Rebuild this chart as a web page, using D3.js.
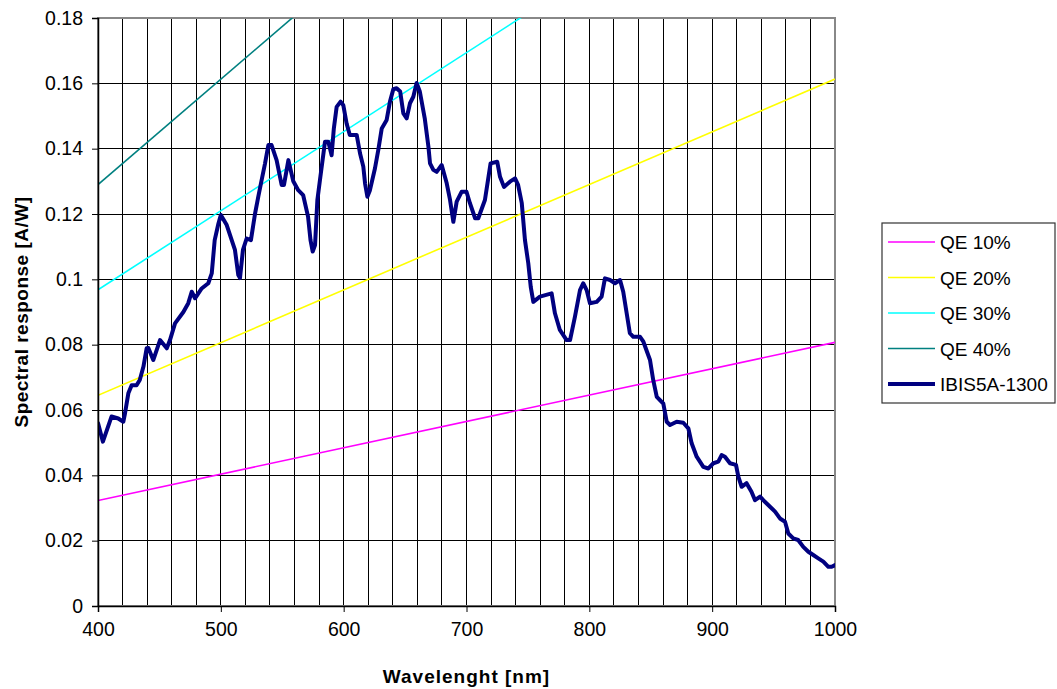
<!DOCTYPE html>
<html>
<head>
<meta charset="utf-8">
<script src="https://cdn.jsdelivr.net/npm/d3@7"></script>
<style>
  body { margin: 0; background: #fff; }
  text { font-family: "Liberation Sans", Arial, sans-serif; fill: #000; }
</style>
</head>
<body>
<div id="chart"></div>
<script>
// Set dimensions
const width = 1057;
const height = 689;
const margin = { top: 18, right: 222, bottom: 83, left: 98 };

// Data: measured curve (wavelength in nm, response in A/W)
const wavelength = [400, 404, 411, 416.5, 420.6, 422, 424.7, 427.4, 431.4, 434, 437, 439.6, 441, 445, 450.5, 456, 458.6, 462.7, 469.5, 473.5,
  476.3, 479, 484.4, 489.8, 492.6, 495, 498, 500, 504.8, 511.5, 514.2, 515.6, 518, 521, 524.5, 527.8, 530.5, 533, 536, 538.7,
  541.3, 545.4, 549.5, 551.4, 555, 559, 563, 567, 571, 573, 574.8, 576.7, 578.6, 580.7, 584.8, 587.5, 590.2, 592, 594.3, 597.5,
  599.7, 602.4, 605, 610.6, 613.3, 616, 617.4, 619.3, 621.4, 625.5, 628.2, 631, 635, 637.7, 640.4, 643.1, 646, 648.6, 651.3, 654,
  656.7, 659.4, 662, 666, 669, 670.3, 673, 675.7, 679.8, 683.9, 686.6, 689.3, 692, 696, 700, 702.8, 707, 709.6, 715, 719.6,
  725, 727.3, 730.5, 735.4, 739.5, 742, 745, 747.6, 750.3, 752.3, 754.4, 759.8, 769.3, 772, 776, 781.5, 784.3, 788.3, 792.4, 795,
  797.8, 800.5, 806, 810, 812.7, 816.8, 820.9, 825, 827.6, 830.4, 833, 835.8, 841.3, 844, 849.4, 852, 854.9, 860.2, 863, 865.7,
  871.1, 876.5, 880.6, 883.3, 887.4, 892.8, 896.9, 901, 905, 907.7, 910.4, 914.5, 919.4, 921.3, 924, 928, 932, 934.9, 939, 941.6,
  947.1, 951.2, 955.2, 959.3, 962, 966, 970, 974.2, 978.3, 982.3, 986.4, 990.5, 994.6, 997.3, 1000];
const response = [0.056, 0.0503, 0.058, 0.0574, 0.0564, 0.059, 0.0651, 0.0676, 0.0676, 0.0692, 0.0733, 0.0789, 0.079, 0.0753, 0.0814, 0.0789, 0.0814, 0.0865, 0.090, 0.0927,
  0.0962, 0.0942, 0.0972, 0.0988, 0.1018, 0.112, 0.117, 0.1197, 0.1166, 0.109, 0.1013, 0.1004, 0.109, 0.1125, 0.112, 0.120, 0.1253, 0.130, 0.1355, 0.1411,
  0.1411, 0.1365, 0.1289, 0.1289, 0.1365, 0.130, 0.1273, 0.1258, 0.1192, 0.112, 0.1085, 0.1105, 0.1243, 0.1304, 0.1421, 0.1421, 0.138, 0.1462, 0.1528, 0.1544,
  0.1533, 0.1477, 0.1442, 0.1442, 0.1386, 0.1345, 0.1294, 0.1253, 0.1273, 0.134, 0.1396, 0.1462, 0.1488, 0.1544, 0.1582, 0.1585, 0.1575, 0.1508, 0.1493, 0.1539,
  0.1559, 0.1601, 0.1575, 0.1493, 0.1406, 0.1355, 0.1335, 0.1329, 0.135, 0.1294, 0.1243, 0.1176, 0.1238, 0.1268, 0.1268, 0.1233, 0.1187, 0.1187, 0.1243, 0.1355,
  0.136, 0.1314, 0.1283, 0.1299, 0.1309, 0.1289, 0.1233, 0.112, 0.1049, 0.0977, 0.0931, 0.0947, 0.0957, 0.0896, 0.0845, 0.0814, 0.0814, 0.0886, 0.0967, 0.0988,
  0.0967, 0.0927, 0.0931, 0.0947, 0.1003, 0.0998, 0.0988, 0.0998, 0.0962, 0.0896, 0.0835, 0.0824, 0.0824, 0.0809, 0.0753, 0.0692, 0.064, 0.062, 0.0564, 0.0554,
  0.0564, 0.0561, 0.0544, 0.0498, 0.0457, 0.0426, 0.0421, 0.0437, 0.0442, 0.0462, 0.0457, 0.0437, 0.0432, 0.0396, 0.0365, 0.0376, 0.035, 0.0324, 0.0335, 0.0324,
  0.0304, 0.0289, 0.0268, 0.0258, 0.0222, 0.0207, 0.0202, 0.0181, 0.0166, 0.0156, 0.0146, 0.0136, 0.012, 0.012, 0.0125];

// QE reference lines (straight, read at both ends)
const qeWavelength = [400, 1000];
const qe10 = [0.0323, 0.0807];
const qe20 = [0.0645, 0.1613];
const qe30 = [0.0968, 0.2420];
const qe40 = [0.1290, 0.3226];

const seriesNames = ["QE 10%", "QE 20%", "QE 30%", "QE 40%", "IBIS5A-1300"];
const seriesColors = ["#ff00ff", "#ffff00", "#00ffff", "#008080", "#000080"];

// Ticks
const xTicks = [400, 500, 600, 700, 800, 900, 1000];
const yTicks = [0, 0.02, 0.04, 0.06, 0.08, 0.1, 0.12, 0.14, 0.16, 0.18];

const innerW = width - margin.left - margin.right;
const innerH = height - margin.top - margin.bottom;

const svg = d3.select("#chart")
  .append("svg")
  .attr("width", width)
  .attr("height", height);

const x = d3.scaleLinear().domain([400, 1000]).range([margin.left, margin.left + innerW]);
const y = d3.scaleLinear().domain([0, 0.18]).range([margin.top + innerH, margin.top]);

// Clip
svg.append("clipPath").attr("id", "plot")
  .append("rect")
  .attr("x", margin.left).attr("y", margin.top)
  .attr("width", innerW).attr("height", innerH);

// Gridlines
const grid = svg.append("g").attr("shape-rendering", "crispEdges");
grid.selectAll(".vx")
  .data(d3.range(420, 1000, 20))
  .enter().append("line")
  .attr("x1", d => x(d)).attr("x2", d => x(d))
  .attr("y1", margin.top).attr("y2", margin.top + innerH)
  .attr("stroke", "#000").attr("stroke-width", 1);
grid.selectAll(".hy")
  .data(yTicks.slice(1, -1))
  .enter().append("line")
  .attr("x1", margin.left).attr("x2", margin.left + innerW)
  .attr("y1", d => y(d)).attr("y2", d => y(d))
  .attr("stroke", "#000").attr("stroke-width", 1);

// Plot border (top/right gray)
svg.append("rect")
  .attr("x", margin.left).attr("y", margin.top)
  .attr("width", innerW).attr("height", innerH)
  .attr("fill", "none").attr("stroke", "#888").attr("stroke-width", 1.5)
  .attr("shape-rendering", "crispEdges");

// QE lines
const plot = svg.append("g").attr("clip-path", "url(#plot)");
const qeLine = d3.line().x((d, i) => x(qeWavelength[i])).y(d => y(d));
[qe10, qe20, qe30, qe40].forEach((vals, i) => {
  plot.append("path")
    .attr("d", qeLine(vals))
    .attr("fill", "none")
    .attr("stroke", seriesColors[i])
    .attr("stroke-width", 1.6);
});

// Measured curve
const curveLine = d3.line()
  .x((d, i) => x(wavelength[i]))
  .y(d => y(d));
plot.append("path")
  .attr("d", curveLine(response))
  .attr("fill", "none")
  .attr("stroke", seriesColors[4])
  .attr("stroke-width", 4)
  .attr("stroke-linejoin", "round")
  .attr("stroke-linecap", "round");

// Axes
const xAxis = svg.append("g")
  .attr("transform", `translate(0,${margin.top + innerH})`)
  .call(d3.axisBottom(x).tickValues(xTicks).tickSize(6).tickPadding(10).tickFormat(d3.format("d")));
xAxis.select(".domain").attr("stroke", "#000").attr("stroke-width", 1.5);
xAxis.selectAll("text").style("font-size", "19.5px");

const yAxis = svg.append("g")
  .attr("transform", `translate(${margin.left},0)`)
  .call(d3.axisLeft(y).tickValues(yTicks).tickSize(6).tickPadding(9).tickFormat(d => d === 0 ? "0" : d3.format("")(+d.toFixed(2))));
yAxis.select(".domain").attr("stroke", "#000").attr("stroke-width", 1.5);
yAxis.selectAll("text").style("font-size", "19.5px");

// Axis titles
svg.append("text")
  .attr("x", margin.left + innerW / 2)
  .attr("y", 683)
  .attr("text-anchor", "middle")
  .style("font-size", "19px")
  .style("font-weight", "bold")
  .style("letter-spacing", "1px")
  .text("Wavelenght [nm]");

svg.append("text")
  .attr("transform", `translate(28,${margin.top + innerH / 2}) rotate(-90)`)
  .attr("text-anchor", "middle")
  .style("font-size", "19px")
  .style("font-weight", "bold")
  .style("letter-spacing", "0.5px")
  .text("Spectral response [A/W]");

// Legend
const legend = svg.append("g");
legend.append("rect")
  .attr("x", 882).attr("y", 223)
  .attr("width", 173).attr("height", 180)
  .attr("fill", "#fff").attr("stroke", "#333").attr("stroke-width", 1.2);

seriesNames.forEach((name, i) => {
  const ly = 242 + i * 35.5;
  legend.append("line")
    .attr("x1", 888).attr("x2", 935)
    .attr("y1", ly).attr("y2", ly)
    .attr("stroke", seriesColors[i])
    .attr("stroke-width", i === 4 ? 4 : 1.6);
  legend.append("text")
    .attr("x", 940)
    .attr("y", ly + 7)
    .style("font-size", "19px")
    .text(name);
});
</script>
</body>
</html>
